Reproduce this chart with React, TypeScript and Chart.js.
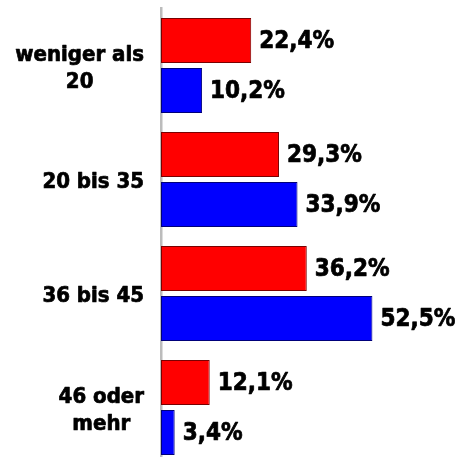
import React, { useEffect, useRef } from "react";
import { Chart, registerables } from "chart.js";

Chart.register(...registerables);

const categories: string[][] = [["weniger als", "20"], ["20 bis 35"], ["36 bis 45"], ["46 oder", "mehr"]];
const seriesRed = [22.4, 29.3, 36.2, 12.1];
const seriesBlue = [10.2, 33.9, 52.5, 3.4];
const axisMin = 0;
const axisMax = 74;

const FONT = '"DejaVu Sans Condensed", "DejaVu Sans", Verdana, sans-serif';

const fmt = (v: number) => v.toFixed(1).replace(".", ",") + "%";

const labelPlugin = {
  id: "customLabels",
  afterDatasetsDraw(chart: any) {
    const ctx = chart.ctx as CanvasRenderingContext2D;
    ctx.save();
    ctx.fillStyle = "#000";
    ctx.strokeStyle = "#000";
    ctx.lineWidth = 0.7;
    ctx.lineJoin = "round";
    ctx.font = `bold 24px ${FONT}`;
    ctx.textBaseline = "middle";
    ctx.textAlign = "left";
    chart.data.datasets.forEach((ds: any, di: number) => {
      const meta = chart.getDatasetMeta(di);
      meta.data.forEach((el: any, i: number) => {
        const t = fmt(ds.data[i]);
        ctx.fillText(t, el.x + 8, el.y + 1.5);
        ctx.strokeText(t, el.x + 8, el.y + 1.5);
      });
    });
    const yScale = chart.scales.y;
    const right = chart.chartArea.left - 17;
    ctx.font = `bold 22px ${FONT}`;
    ctx.textAlign = "center";
    categories.forEach((lines, i) => {
      const w = Math.max(...lines.map((l) => ctx.measureText(l).width));
      const cx = right - w / 2;
      const yc = yScale.getPixelForValue(i);
      const lh = 27;
      lines.forEach((l, j) => {
        const yy = yc + (j - (lines.length - 1) / 2) * lh + 3;
        ctx.fillText(l, cx, yy);
        ctx.strokeText(l, cx, yy);
      });
    });
    ctx.restore();
  },
};

export default function App() {
  const ref = useRef<HTMLCanvasElement | null>(null);
  useEffect(() => {
    if (!ref.current) return;
    const chart = new Chart(ref.current, {
      type: "bar",
      data: {
        labels: categories.map((c) => c.join(" ")),
        datasets: [
          {
            data: seriesRed,
            backgroundColor: "#FF0000",
            borderColor: "#7a0000",
            borderWidth: 1,
            borderSkipped: false,
            categoryPercentage: 100 / 114,
            barPercentage: 0.9,
          },
          {
            data: seriesBlue,
            backgroundColor: "#0000FF",
            borderColor: "#00007a",
            borderWidth: 1,
            borderSkipped: false,
            categoryPercentage: 100 / 114,
            barPercentage: 0.9,
          },
        ],
      },
      options: {
        indexAxis: "y",
        responsive: false,
        animation: false,
        layout: { padding: { top: 8.5, bottom: 1.5, left: 0, right: 0 } },
        plugins: { legend: { display: false }, tooltip: { enabled: false } },
        scales: {
          x: { display: false, min: axisMin, max: axisMax },
          y: {
            display: true,
            grid: { display: false },
            ticks: { display: false },
            border: { display: true, color: "#bcbcbc", width: 2.5 },
            afterFit: (scale: any) => {
              scale.width = 161;
            },
          },
        },
      },
      plugins: [labelPlugin],
    });
    return () => chart.destroy();
  }, []);
  return (
    <div style={{ position: "fixed", top: 0, left: 0, width: 459, height: 457, overflow: "hidden", background: "#fff" }}>
      <canvas ref={ref} width={459} height={466} style={{ display: "block" }} />
    </div>
  );
}
